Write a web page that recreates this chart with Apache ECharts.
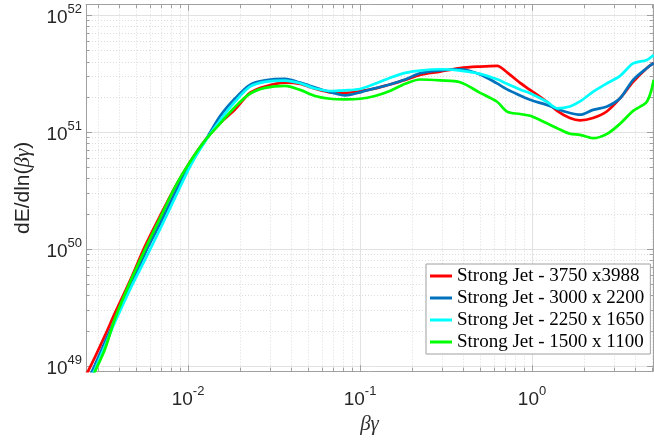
<!DOCTYPE html>
<html><head><meta charset="utf-8">
<script src="https://cdn.jsdelivr.net/npm/echarts@6/dist/echarts.min.js"></script>
<style>html,body{margin:0;padding:0;background:#fff}#c{width:654px;height:440px}</style>
</head><body><div id="c"></div>
<script>
// beta*gamma sample points (shared by all series)
const betaGamma = [2.55e-3, 2.88e-3, 3.29e-3, 3.76e-3, 4.60e-3, 5.62e-3, 6.87e-3, 8.40e-3, 1.03e-2, 1.26e-2,
  1.54e-2, 1.88e-2, 2.29e-2, 2.80e-2, 3.66e-2, 4.48e-2, 5.48e-2, 6.69e-2, 8.18e-2, 0.100,
  0.122, 0.149, 0.183, 0.223, 0.292, 0.382, 0.499, 0.626, 0.716, 0.852,
  0.974, 1.22, 1.40, 1.66, 1.90, 2.26, 2.73, 3.25, 3.87, 4.66, 5.1];

const jet3750 = [8.35e48, 1.20e49, 1.83e49, 2.85e49, 5.39e49, 1.06e50, 1.92e50, 3.39e50, 5.61e50, 8.55e50,
  1.20e51, 1.57e51, 2.17e51, 2.46e51, 2.65e51, 2.59e51, 2.35e51, 2.19e51, 2.17e51, 2.24e51,
  2.36e51, 2.56e51, 2.80e51, 3.09e51, 3.29e51, 3.53e51, 3.64e51, 3.69e51, 3.24e51, 2.64e51,
  2.30e51, 1.82e51, 1.52e51, 1.32e51, 1.26e51, 1.32e51, 1.51e51, 1.95e51, 2.69e51, 3.54e51, 3.89e51];

const jet3000 = [6.97e48, 1.03e49, 1.61e49, 2.50e49, 4.73e49, 9.21e49, 1.65e50, 3.03e50, 5.39e50, 8.49e50,
  1.38e51, 1.95e51, 2.54e51, 2.77e51, 2.85e51, 2.65e51, 2.41e51, 2.20e51, 2.06e51, 2.19e51,
  2.37e51, 2.56e51, 2.82e51, 3.19e51, 3.37e51, 3.45e51, 3.12e51, 2.61e51, 2.32e51, 2.06e51,
  1.89e51, 1.71e51, 1.58e51, 1.46e51, 1.41e51, 1.55e51, 1.66e51, 1.95e51, 2.80e51, 3.54e51, 3.89e51];

const jet2250 = [6.29e48, 9.45e48, 1.49e49, 2.38e49, 4.53e49, 8.12e49, 1.48e50, 2.75e50, 5.13e50, 8.40e50,
  1.27e51, 1.83e51, 2.45e51, 2.69e51, 2.76e51, 2.62e51, 2.36e51, 2.25e51, 2.28e51, 2.34e51,
  2.59e51, 2.91e51, 3.21e51, 3.36e51, 3.45e51, 3.36e51, 3.15e51, 2.83e51, 2.59e51, 2.32e51,
  2.15e51, 1.82e51, 1.60e51, 1.66e51, 1.83e51, 2.21e51, 2.62e51, 3.03e51, 3.87e51, 4.15e51, 4.58e51];

const jet1500 = [6.23e48, 9.03e48, 1.40e49, 2.55e49, 5.22e49, 9.95e49, 1.84e50, 3.39e50, 5.61e50, 8.55e50,
  1.19e51, 1.65e51, 2.13e51, 2.39e51, 2.49e51, 2.30e51, 2.04e51, 1.93e51, 1.91e51, 1.93e51,
  2.04e51, 2.25e51, 2.59e51, 2.82e51, 2.77e51, 2.67e51, 2.17e51, 1.82e51, 1.50e51, 1.43e51,
  1.38e51, 1.19e51, 1.08e51, 9.68e50, 9.49e50, 8.89e50, 9.68e50, 1.18e51, 1.52e51, 1.83e51, 2.80e51];

const seriesNames = ['Strong Jet - 3750 x3988', 'Strong Jet - 3000 x 2200', 'Strong Jet - 2250 x 1650', 'Strong Jet - 1500 x 1100'];
const seriesValues = [jet3750, jet3000, jet2250, jet1500];

// axis limits and decade ticks
const xLimits = [2.55e-3, 5.05];
const yLimits = [9.06e48, 1.23e52];
const xDecades = [1e-3, 1e-2, 1e-1, 1e0];
const yDecades = [1e48, 1e49, 1e50, 1e51, 1e52];

const colors = ['#ff0000', '#0072bd', '#00ffff', '#00ff00'];
const L = Math.log10;
const xMin = L(xLimits[0]), xMax = L(xLimits[1]);
const yMin = L(yLimits[0]), yMax = L(yLimits[1]);
function majors(dec, lo, hi) { return dec.map(L).filter(v => v >= lo - 1e-9 && v <= hi + 1e-9); }
function minors(dec, lo, hi) {
  const out = [];
  dec.forEach(d => { for (let k = 2; k <= 9; k++) { const v = L(k * d); if (v > lo && v < hi) out.push(v); } });
  return out;
}
const xMaj = majors(xDecades, xMin, xMax), xMin_ = minors(xDecades, xMin, xMax);
const yMaj = majors(yDecades, yMin, yMax), yMin_ = minors(yDecades, yMin, yMax);

const axisGray = '#a0a0a0';
const labelFmt = v => '{b|10}{s|' + Math.round(v) + '}';
const richLab = {
  b: { fontSize: 19, fontFamily: 'Liberation Sans', color: '#262626', lineHeight: 24, verticalAlign: 'bottom' },
  s: { fontSize: 13, fontFamily: 'Liberation Sans', color: '#262626', lineHeight: 10, verticalAlign: 'top' }
};

function mkAxis(kind, pos, lo, hi, vals, major, withLabel, name) {
  const a = {
    type: 'value', position: pos, min: lo, max: hi, scale: true,
    axisLine: { show: major, onZero: false, lineStyle: { color: axisGray, width: 1 } },
    axisTick: { show: true, inside: true, length: major ? 6 : 3.5, customValues: vals, lineStyle: { color: axisGray, width: 1 } },
    axisLabel: withLabel ? { show: true, customValues: vals, formatter: labelFmt, rich: richLab,
      margin: kind === 'x' ? 14 : 4 } : { show: false },
    splitLine: (pos === 'bottom' || pos === 'left') ? (major
      ? { show: true, lineStyle: { color: '#e2e2e2', width: 1, type: 'solid' } }
      : { show: true, lineStyle: { color: '#dcdcdc', width: 1, type: [1, 2] } }) : { show: false },
    minorTick: { show: false }, minorSplitLine: { show: false }
  };
  if (name) Object.assign(a, name);
  return a;
}

const xAxes = [
  mkAxis('x', 'bottom', xMin, xMax, xMaj, true, true, {
    name: 'βγ', nameLocation: 'middle', nameGap: 40,
    nameTextStyle: { fontSize: 21, fontFamily: 'Liberation Serif', fontStyle: 'italic', color: '#333' }
  }),
  mkAxis('x', 'bottom', xMin, xMax, xMin_, false, false),
  mkAxis('x', 'top', xMin, xMax, xMaj, true, false),
  mkAxis('x', 'top', xMin, xMax, xMin_, false, false)
];
const yAxes = [
  mkAxis('y', 'left', yMin, yMax, yMaj, true, true, {
    name: '{a|dE/dln(}{g|βγ}{a|)}', nameLocation: 'middle', nameGap: 52, nameRotate: 90,
    nameTextStyle: { rich: {
      a: { fontSize: 21, fontFamily: 'Liberation Sans', color: '#262626' },
      g: { fontSize: 21, fontFamily: 'Liberation Serif', fontStyle: 'italic', color: '#262626' } } }
  }),
  mkAxis('y', 'left', yMin, yMax, yMin_, false, false),
  mkAxis('y', 'right', yMin, yMax, yMaj, true, false),
  mkAxis('y', 'right', yMin, yMax, yMin_, false, false)
];

const series = seriesNames.map((n, i) => ({
  name: n, type: 'line', xAxisIndex: 0, yAxisIndex: 0,
  data: betaGamma.map((x, j) => [L(x), L(seriesValues[i][j])]),
  showSymbol: false, smooth: 0.3, clip: true,
  lineStyle: { color: colors[i], width: 2.7 }, itemStyle: { color: colors[i] },
  emphasis: { disabled: true }
}));

const chart = echarts.init(document.getElementById('c'), null, { renderer: 'canvas' });
chart.setOption({
  animation: false,
  backgroundColor: '#fff',
  grid: { left: 86, right: 1, top: 4.7, bottom: 68.3, containLabel: false },
  xAxis: xAxes, yAxis: yAxes,
  legend: {
    data: seriesNames, orient: 'vertical', left: 426, top: 264,
    icon: 'rect', itemWidth: 22, itemHeight: 3, itemGap: 0,
    padding: [1, 6, 1, 4], borderColor: '#a0a0a0', borderWidth: 1, backgroundColor: '#fff',
    textStyle: { fontFamily: 'Liberation Serif', fontSize: 19, color: '#000', lineHeight: 22 }
  },
  series
});
</script></body></html>
